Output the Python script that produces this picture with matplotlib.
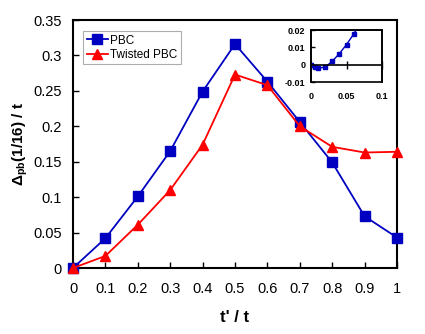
import matplotlib
matplotlib.use("Agg")
import matplotlib.pyplot as plt

plt.rcParams['font.family'] = ['Liberation Sans', 'DejaVu Sans']
plt.rcParams['mathtext.fontset'] = 'custom'
plt.rcParams['mathtext.rm'] = 'Liberation Sans:bold'
plt.rcParams['mathtext.it'] = 'Liberation Sans:bold'
plt.rcParams['mathtext.bf'] = 'Liberation Sans:bold'
plt.rcParams['mathtext.sf'] = 'Liberation Sans:bold'

tp = [0, 0.1, 0.2, 0.3, 0.4, 0.5, 0.6, 0.7, 0.8, 0.9, 1.0]
pbc = [0, 0.042, 0.101, 0.165, 0.249, 0.316, 0.263, 0.206, 0.149, 0.073, 0.043]
twisted = [0, 0.017, 0.061, 0.110, 0.174, 0.273, 0.258, 0.200, 0.171, 0.163, 0.164]

inset_x = [0, 0.005, 0.01, 0.02, 0.03, 0.04, 0.05, 0.06, 0.07]
inset_y = [0, -0.0014, -0.002, -0.0014, 0.002, 0.0064, 0.0116, 0.0176, 0.024]

xticks = [0, 0.1, 0.2, 0.3, 0.4, 0.5, 0.6, 0.7, 0.8, 0.9, 1]
xticklabels = ['0', '0.1', '0.2', '0.3', '0.4', '0.5', '0.6', '0.7', '0.8', '0.9', '1']
yticks = [0, 0.05, 0.1, 0.15, 0.2, 0.25, 0.3, 0.35]
yticklabels = ['0', '0.05', '0.1', '0.15', '0.2', '0.25', '0.3', '0.35']

blue = '#0000c0'
red = '#ff0000'

fig = plt.figure(figsize=(4.25, 3.34), dpi=100)
ax = fig.add_axes([73/425, 1-268/334, (397-73)/425, (268-20)/334])
ax.plot(tp, pbc, color=blue, marker='s', markersize=6.5, lw=1.3, label='PBC', clip_on=False, zorder=3)
ax.plot(tp, twisted, color=red, marker='^', markersize=6.5, lw=1.3, label='Twisted PBC', clip_on=False, zorder=3)
ax.set_xlim(0, 1)
ax.set_ylim(0, 0.35)
ax.set_xticks(xticks)
ax.set_xticklabels(xticklabels)
ax.set_yticks(yticks)
ax.set_yticklabels(yticklabels)
ax.tick_params(direction='in', length=4, width=1, labelsize=10.5)
ax.tick_params(axis='x', pad=10)
ax.tick_params(axis='y', pad=8)
for s in ax.spines.values():
    s.set_linewidth(1.5)
ax.set_xlabel("t' / t", fontsize=12, fontweight='bold', labelpad=10)
ax.set_ylabel(r"$\Delta_{\mathrm{pb}}$(1/16) / t", fontsize=11, fontweight='bold', labelpad=2)
leg = ax.legend(loc='upper left', bbox_to_anchor=(0.02, 0.97), fontsize=8.5, frameon=True,
                fancybox=False, edgecolor='#999999', handlelength=1.8, handletextpad=0.2,
                borderpad=0.3, labelspacing=0.2, borderaxespad=0.3)
leg.get_frame().set_linewidth(0.8)

ins = fig.add_axes([311/425, 1-82/334, 71/425, 52/334])
ins.plot(inset_x, inset_y, color=blue, marker='s', markersize=3.5, lw=1.0,
         markevery=list(range(len(inset_x)-1)))
ins.set_xlim(0, 0.1)
ins.set_ylim(-0.01, 0.02)
ins.set_xticks([0, 0.05, 0.1])
ins.set_xticklabels(['0', '0.05', '0.1'])
ins.set_yticks([-0.01, 0, 0.01, 0.02])
ins.set_yticklabels(['-0.01', '0', '0.01', '0.02'])
ins.spines['bottom'].set_position(('data', 0))
ins.spines['bottom'].set_linewidth(1.2)
for k in ['top', 'right', 'left']:
    ins.spines[k].set_linewidth(1.2)
ins.patch.set_edgecolor('black')
ins.patch.set_linewidth(1.2)
ins.tick_params(axis='x', direction='inout', length=6, width=1, labelsize=6.5, pad=17)
ins.tick_params(axis='y', direction='in', length=3, width=1, labelsize=6.5, pad=4)
for lab in ins.get_xticklabels() + ins.get_yticklabels():
    lab.set_fontweight('bold')

fig.savefig('out.png', dpi=100)
